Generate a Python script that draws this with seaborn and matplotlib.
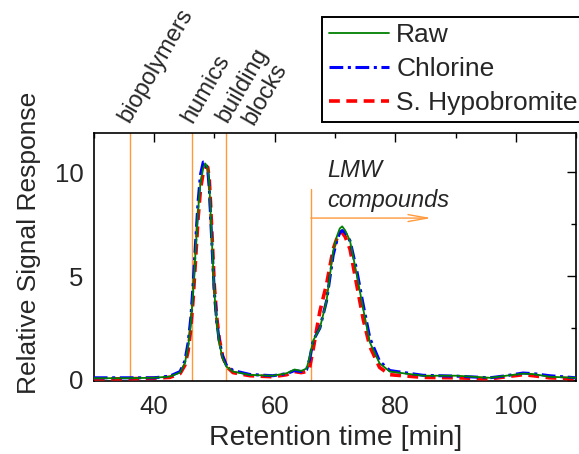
import numpy as np
import pandas as pd
import seaborn as sns
import matplotlib.pyplot as plt
from matplotlib.ticker import MultipleLocator

sns.set_theme(style="white")
plt.rcParams['font.family'] = ['Liberation Sans', 'DejaVu Sans']

# retention time grid [min]
t = [30, 35, 40, 42.6, 44.3, 45.1, 45.65, 46.1, 46.5, 46.9,
     47.3, 47.7, 48.15, 48.5, 48.9, 49.15, 49.4, 49.7, 50.0, 50.4,
     50.8, 51.35, 52.0, 53.1, 55.9, 59.7, 62.0, 63.3, 64.4, 65.3,
     65.8, 66.4, 67.5, 68.6, 69.7, 70.3, 70.8, 71.2, 71.7, 72.5,
     73.6, 74.7, 75.8, 77.4, 79.1, 84.6, 90.1, 95.7, 98.4, 101.2,
     102.9, 105.6, 110]

raw = [0.08, 0.08, 0.1, 0.16, 0.35, 0.8, 1.6, 2.75, 4.35, 6.3,
       8.2, 9.5, 10.2, 10.43, 10.2, 9.5, 7.9, 6.0, 4.2, 2.75,
       1.8, 1.05, 0.64, 0.4, 0.24, 0.2, 0.32, 0.5, 0.43, 0.55,
       1.1, 1.9, 2.5, 3.8, 6.2, 6.9, 7.3, 7.4, 7.2, 6.7,
       5.1, 3.4, 1.8, 0.8, 0.4, 0.2, 0.2, 0.1, 0.2, 0.3,
       0.28, 0.15, 0.1]

chlorine = [0.1, 0.1, 0.1, 0.18, 0.4, 0.9, 1.8, 3.0, 4.7, 6.7,
            8.6, 9.9, 10.5, 10.5, 10.1, 9.3, 7.7, 5.9, 4.2, 2.8,
            1.9, 1.15, 0.7, 0.45, 0.26, 0.2, 0.3, 0.45, 0.4, 0.5,
            1.0, 1.9, 2.5, 3.8, 6.0, 6.7, 7.1, 7.2, 7.1, 6.7,
            5.3, 3.6, 2.0, 0.9, 0.45, 0.22, 0.18, 0.1, 0.2, 0.33,
            0.3, 0.2, 0.1]

hypobromite = [0.05, 0.05, 0.08, 0.12, 0.3, 0.7, 1.4, 2.5, 4.0, 5.9,
               7.8, 9.2, 10.0, 10.3, 10.25, 9.7, 8.3, 6.4, 4.5, 3.0,
               2.0, 1.15, 0.65, 0.35, 0.2, 0.15, 0.25, 0.4, 0.35, 0.4,
               0.6, 1.5, 3.3, 4.6, 6.3, 6.8, 7.1, 7.1, 6.9, 6.3,
               4.6, 2.9, 1.6, 0.6, 0.25, 0.12, 0.1, 0.05, 0.15, 0.25,
               0.2, 0.1, 0.05]

df = pd.DataFrame({'time': t, 'Raw': raw, 'Chlorine': chlorine,
                   'S. Hypobromite': hypobromite})

fig = plt.figure(figsize=(5.79, 4.54), dpi=100)
ax = fig.add_axes([0.162, 0.161, 0.833, 0.546])

orange = '#ff9a3c'
# fraction boundaries
for xb in [36, 46.3, 52]:
    ax.axvline(xb, color=orange, lw=1.0, zorder=1)
ax.plot([66, 66], [-0.05, 9.2], color=orange, lw=1.0, zorder=1)
ax.annotate('', xy=(86, 7.8), xytext=(66, 7.8),
            arrowprops=dict(arrowstyle='->,head_length=1.4,head_width=0.25',
                            color=orange, lw=1.0, mutation_scale=10,
                            shrinkA=0, shrinkB=0))

sns.lineplot(ax=ax, data=df, x='time', y='S. Hypobromite', color='#ff0000',
             lw=2.6, linestyle=(0, (3, 1.8)), label='S. Hypobromite', zorder=3)
sns.lineplot(ax=ax, data=df, x='time', y='Chlorine', color='#0000ff',
             lw=2.2, linestyle=(0, (4.5, 1.5, 1, 1.5)), label='Chlorine', zorder=4)
sns.lineplot(ax=ax, data=df, x='time', y='Raw', color='#008000',
             lw=1.3, label='Raw', zorder=5)

ax.set_xlim(30, 110)
ax.set_ylim(-0.05, 11.9)
ax.xaxis.set_major_locator(MultipleLocator(20))
ax.xaxis.set_minor_locator(MultipleLocator(10))
ax.yaxis.set_major_locator(MultipleLocator(5))
ax.yaxis.set_minor_locator(MultipleLocator(2.5))
ax.tick_params(which='both', direction='in', top=True, right=True,
               labelsize=18.5, color='black', width=1.0)
ax.tick_params(which='major', length=6.5)
ax.tick_params(which='minor', length=3.6)
ax.tick_params(axis='x', which='major', pad=10)
ax.tick_params(axis='y', which='major', pad=7.5)
for s in ax.spines.values():
    s.set_color('black')
    s.set_linewidth(1.2)

ax.set_xlabel('Retention time [min]', fontsize=20.5)
ax.set_ylabel('Relative Signal Response', fontsize=19)
ax.xaxis.set_label_coords(0.501, -0.177)
ax.yaxis.set_label_coords(-0.110, 0.558)

# region labels
lab_kw = dict(rotation=60, rotation_mode='anchor', ha='left', va='baseline',
              fontsize=17, transform=ax.get_xaxis_transform())
ax.text(35.8, 1.038, 'biopolymers', **lab_kw)
ax.text(46.3, 1.035, 'humics', **lab_kw)
ax.text(52.1, 1.038, 'building', **lab_kw)
ax.text(56.4, 1.030, 'blocks', **lab_kw)

ax.text(68.8, 9.76, 'LMW', fontsize=17, style='italic', ha='left', va='baseline')
ax.text(68.8, 8.31, 'compounds', fontsize=17, style='italic', ha='left', va='baseline')

h, l = ax.get_legend_handles_labels()
order = [2, 1, 0]
leg = ax.legend([h[i] for i in order], [l[i] for i in order],
                loc='upper left', bbox_to_anchor=(0.556, 0.963),
                bbox_transform=fig.transFigure, fontsize=19, frameon=True,
                fancybox=False, edgecolor='black', framealpha=1,
                handlelength=2.3, handletextpad=0.27, labelspacing=0.37,
                borderpad=0.25, borderaxespad=0)
leg.get_frame().set_linewidth(1.4)

fig.savefig('out.png', dpi=100)
